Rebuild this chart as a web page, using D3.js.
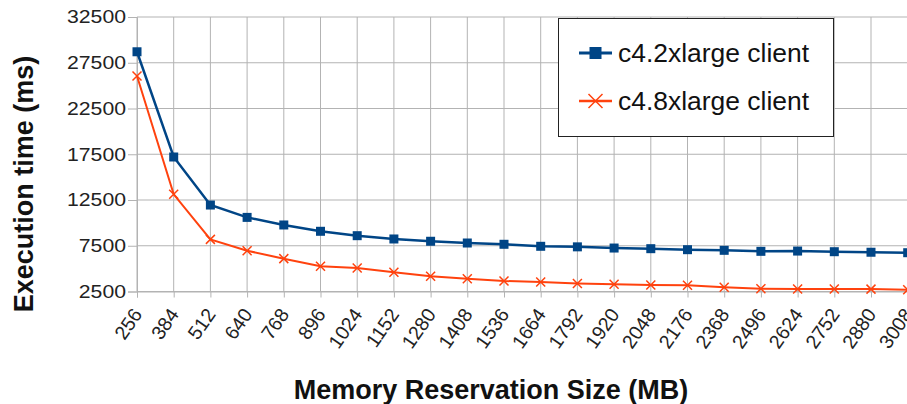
<!DOCTYPE html>
<html>
<head>
<meta charset="utf-8">
<script src="https://cdn.jsdelivr.net/npm/d3@7/dist/d3.min.js"></script>
<style>
  html, body { margin: 0; padding: 0; background: #fff; overflow: hidden; }
  svg { display: block; font-family: "Liberation Sans", Arial, sans-serif; }
</style>
</head>
<body>
<svg id="chart" width="907" height="404"></svg>
<script>
const categories = ["256","384","512","640","768","896","1024","1152","1280","1408","1536","1664","1792","1920","2048","2176","2368","2496","2624","2752","2880","3008"];
const c42 = [28700,17200,11950,10600,9770,9080,8600,8240,7990,7800,7660,7440,7380,7250,7180,7070,7000,6890,6920,6850,6790,6740];
const c48 = [26050,13120,8200,6960,6090,5250,5070,4600,4160,3900,3650,3540,3380,3290,3210,3180,2960,2810,2770,2770,2760,2700];
const yTicks = [2500,7500,12500,17500,22500,27500,32500];
const seriesNames = ["c4.2xlarge client","c4.8xlarge client"];
const colors = ["#004586","#ff420e"];
const xTitle = "Memory Reservation Size (MB)";
const yTitle = "Execution time (ms)";

const svg = d3.select("#chart");
const plotLeft = 137, plotTop = 17, plotBottom = 291.5, step = 36.7;
const x = d3.scalePoint().domain(categories).range([plotLeft, plotLeft + step*(categories.length-1)]).padding(0);
const y = d3.scaleLinear().domain([2500,32500]).range([plotBottom, plotTop]);
const grid = "#b3b3b3";

// grid
svg.append("g").selectAll("line").data(yTicks).join("line")
  .attr("x1", plotLeft).attr("x2", 920).attr("y1", d=>y(d)).attr("y2", d=>y(d))
  .attr("stroke", grid).attr("stroke-width", 1);
svg.append("g").selectAll("line").data(categories).join("line")
  .attr("x1", d=>x(d)).attr("x2", d=>x(d)).attr("y1", plotTop).attr("y2", plotBottom)
  .attr("stroke", grid).attr("stroke-width", 1);

// y axis
const yAxis = svg.append("g").attr("transform", `translate(${plotLeft},0)`)
  .call(d3.axisLeft(y).tickValues(yTicks).tickSize(9).tickPadding(2).tickFormat(d3.format("d")));
yAxis.select(".domain").attr("stroke", grid);
yAxis.selectAll(".tick line").attr("stroke", grid);
yAxis.selectAll(".tick text").attr("font-size", 18).attr("fill", "#222")
  .attr("font-family", "Liberation Sans, Arial, sans-serif")
  .attr("textLength", d => String(d).length*11.8).attr("lengthAdjust", "spacingAndGlyphs");

// x axis
const xAxis = svg.append("g").attr("transform", `translate(0,${plotBottom})`)
  .call(d3.axisBottom(x).tickSize(6));
xAxis.select(".domain").attr("stroke", grid);
xAxis.selectAll(".tick line").attr("stroke", grid);
xAxis.selectAll(".tick text").attr("font-size", 19.5).attr("fill", "#222")
  .attr("font-family", "Liberation Sans, Arial, sans-serif")
  .attr("text-anchor", "end").attr("x", 0).attr("y", 0).attr("dy", "0.35em")
  .attr("transform", "translate(0,19) rotate(-55)");

// titles
svg.append("text").attr("x", 491).attr("y", 399).attr("text-anchor", "middle")
  .attr("font-size", 27).attr("font-weight", "bold").attr("fill", "#111").text(xTitle);
svg.append("text").attr("transform", "translate(33,184) rotate(-90)").attr("text-anchor", "middle")
  .attr("font-size", 27).attr("font-weight", "bold").attr("fill", "#111").text(yTitle);

// lines
const line = d3.line().x((d,i)=>x(categories[i])).y(d=>y(d));
const seriesData = [c42, c48];
seriesData.forEach((vals, si) => {
  svg.append("path").datum(vals).attr("d", line).attr("fill", "none")
    .attr("stroke", colors[si]).attr("stroke-width", si===0 ? 2.5 : 2);
});
// markers
svg.append("g").selectAll("rect").data(c42).join("rect")
  .attr("x", (d,i)=>x(categories[i])-4.5).attr("y", d=>y(d)-4.5)
  .attr("width", 9).attr("height", 9).attr("fill", colors[0]);
const cross = (g, cx, cy, r) => {
  g.append("path").attr("d", `M${cx-r},${cy-r}L${cx+r},${cy+r}M${cx-r},${cy+r}L${cx+r},${cy-r}`)
    .attr("stroke", colors[1]).attr("stroke-width", 1.5).attr("fill", "none");
};
const mg = svg.append("g");
c48.forEach((d,i) => cross(mg, x(categories[i]), y(d), 4.5));

// legend
const lg = svg.append("g");
lg.append("rect").attr("x", 558.5).attr("y", 18.5).attr("width", 275).attr("height", 118)
  .attr("fill", "#fff").attr("stroke", "#222").attr("stroke-width", 1);
const ly = [53, 101];
seriesNames.forEach((name, si) => {
  lg.append("line").attr("x1", 579).attr("x2", 612).attr("y1", ly[si]).attr("y2", ly[si])
    .attr("stroke", colors[si]).attr("stroke-width", si===0 ? 3 : 2.5);
  if (si === 0) {
    lg.append("rect").attr("x", 589.5).attr("y", ly[si]-6).attr("width", 12).attr("height", 12).attr("fill", colors[0]);
  } else {
    cross(lg, 595.5, ly[si], 7);
  }
  lg.append("text").attr("x", 618).attr("y", ly[si] + 8.5).attr("font-size", 25).attr("fill", "#111")
    .attr("textLength", 191).attr("lengthAdjust", "spacingAndGlyphs").text(name);
});
</script>
</body>
</html>
